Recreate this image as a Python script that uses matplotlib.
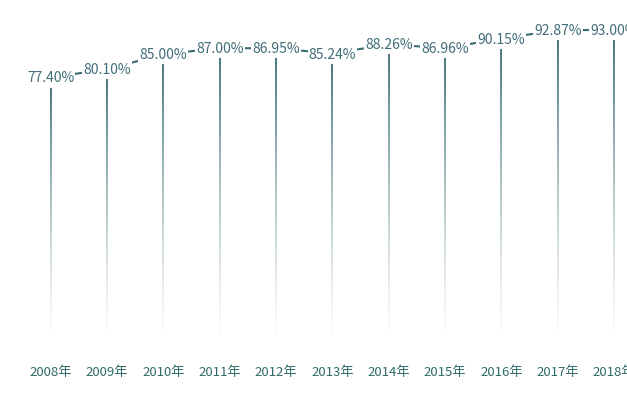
import matplotlib
matplotlib.use("Agg")
import matplotlib.pyplot as plt
import numpy as np
from matplotlib.collections import LineCollection
from matplotlib.colors import to_rgba

plt.rcParams['font.family'] = ['Noto Sans CJK SC', 'DejaVu Sans']
years = ['2008年','2009年','2010年','2011年','2012年','2013年','2014年','2015年','2016年','2017年','2018年']
values = [77.40, 80.10, 85.00, 87.00, 86.95, 85.24, 88.26, 86.96, 90.15, 92.87, 93.00]
labels = ['77.40%','80.10%','85.00%','87.00%','86.95%','85.24%','88.26%','86.96%','90.15%','92.87%','93.00%']

fig = plt.figure(figsize=(6.27, 4.06), dpi=100)
ax = fig.add_axes([0.0, 0.0, 1.0, 1.0])
ax.set_xlim(-0.9, 10.23)
ax.set_ylim(-26.6, 106.4)
ax.axis('off')
xs = np.arange(len(values))
col = to_rgba('#3a6d72')
for x, v in zip(xs, values):
    n = 100
    ys = np.linspace(-3, v, n + 1)
    segs = [[(x, ys[i]), (x, ys[i + 1])] for i in range(n)]
    t = np.linspace(0, 1, n)
    cols = [(col[0], col[1], col[2], 0.03 + 0.97 * tt ** 1.3) for tt in t]
    ax.add_collection(LineCollection(segs, colors=cols, linewidths=1.3))
ly = [v + 3.3 for v in values]
ax.plot(xs, ly, color='#3a6d72', lw=1.5, zorder=2)
for x, y, l in zip(xs, ly, labels):
    ax.text(x, y, l, ha='center', va='center', fontsize=10, color='#3f6d78',
            bbox=dict(facecolor='white', edgecolor='none', pad=0.8), zorder=3)
for x, yr in zip(xs, years):
    ax.text(x, -15.6, yr, ha='center', va='center', fontsize=9.5, color='#2f6a6a')
fig.savefig('out.png', dpi=100, facecolor='white')
